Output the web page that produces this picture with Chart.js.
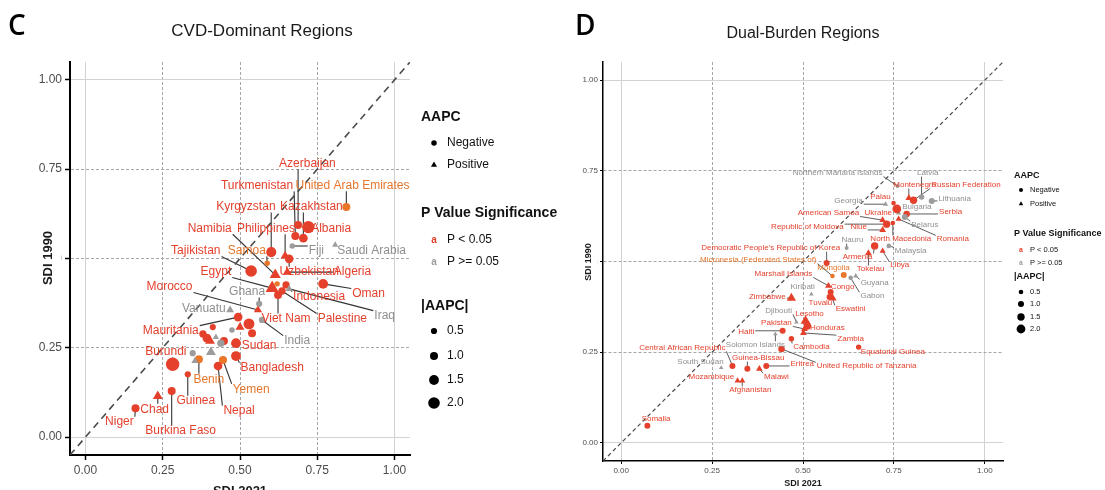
<!DOCTYPE html>
<html>
<head>
<meta charset="utf-8">
<script src="https://cdn.jsdelivr.net/npm/chart.js@4.4.1/dist/chart.umd.min.js"></script>
<style>
  html, body { margin: 0; padding: 0; background: #fff; }
  #wrap { position: relative; width: 1105px; height: 490px; overflow: hidden; }
  .panel { position: absolute; top: 0; height: 490px; }
  #pc { left: 0; width: 560px; }
  #pd { left: 560px; width: 545px; }
</style>
</head>
<body>
<div id="wrap">
  <div class="panel" id="pc"><canvas id="cvdChart"></canvas></div>
  <div class="panel" id="pd"><canvas id="dualChart"></canvas></div>
</div>
<script>
// --- data -------------------------------------------------------------
const sdiTicks = [0, 0.25, 0.5, 0.75, 1];
const diagonalSdi = [-0.05, 1.05];
const aapcSizeKeys = [0.5, 1.0, 1.5, 2.0];

// country, SDI 2021, SDI 1990, AAPC, p group (sig = P<0.05, ns = P>=0.05, mid = borderline)
const cvdRegions = [
  ['Azerbaijan', 0.688, 0.594, -1.0, 'sig'],
  ['Turkmenistan', 0.679, 0.563, -1.0, 'sig'],
  ['United Arab Emirates', 0.844, 0.644, -1.0, 'mid'],
  ['Kazakhstan', 0.705, 0.557, -1.2, 'sig'],
  ['Albania', 0.721, 0.588, -2.2, 'sig'],
  ['Kyrgyzstan', 0.601, 0.518, -1.6, 'sig'],
  ['Philippines', 0.646, 0.507, 1.0, 'sig'],
  ['Namibia', 0.614, 0.454, 1.5, 'sig'],
  ['Samoa', 0.588, 0.487, -0.3, 'mid'],
  ['Tajikistan', 0.536, 0.465, -2.0, 'sig'],
  ['Egypt', 0.604, 0.417, 2.0, 'sig'],
  ['Uzbekistan', 0.659, 0.499, -1.2, 'sig'],
  ['Algeria', 0.653, 0.462, 1.0, 'sig'],
  ['Morocco', 0.558, 0.356, 0.8, 'sig'],
  ['Ghana', 0.562, 0.373, -0.5, 'ns'],
  ['Indonesia', 0.649, 0.426, -0.8, 'sig'],
  ['Oman', 0.769, 0.429, -1.5, 'sig'],
  ['Iraq', 0.659, 0.415, 0.5, 'ns'],
  ['Viet Nam', 0.623, 0.398, -1.0, 'sig'],
  ['Palestine', 0.636, 0.409, -0.8, 'sig'],
  ['Vanuatu', 0.468, 0.356, 0.7, 'ns'],
  ['Fiji', 0.669, 0.535, -0.3, 'ns'],
  ['Saudi Arabia', 0.808, 0.538, 0.3, 'ns'],
  ['India', 0.571, 0.328, -0.5, 'ns'],
  ['Mauritania', 0.494, 0.336, -1.2, 'sig'],
  ['Sudan', 0.487, 0.263, -1.5, 'sig'],
  ['Burundi', 0.282, 0.204, -2.5, 'sig'],
  ['Bangladesh', 0.487, 0.227, -1.5, 'sig'],
  ['Benin', 0.367, 0.218, -1.0, 'mid'],
  ['Yemen', 0.445, 0.216, -1.0, 'mid'],
  ['Nepal', 0.429, 0.199, -1.2, 'sig'],
  ['Guinea', 0.331, 0.176, -0.5, 'sig'],
  ['Chad', 0.234, 0.115, 1.2, 'sig'],
  ['Burkina Faso', 0.279, 0.129, -1.0, 'sig'],
  ['Niger', 0.162, 0.081, -1.0, 'sig'],
  ['', 0.529, 0.317, -1.8, 'sig'],
  ['', 0.500, 0.308, 1.0, 'sig'],
  ['', 0.539, 0.291, -1.0, 'sig'],
  ['', 0.412, 0.308, -0.5, 'sig'],
  ['', 0.474, 0.300, -0.3, 'ns'],
  ['', 0.380, 0.289, -0.8, 'sig'],
  ['', 0.393, 0.277, -1.2, 'sig'],
  ['', 0.403, 0.269, 1.2, 'sig'],
  ['', 0.422, 0.280, 0.3, 'ns'],
  ['', 0.448, 0.269, -1.0, 'sig'],
  ['', 0.438, 0.263, -0.8, 'ns'],
  ['', 0.347, 0.235, -0.5, 'ns'],
  ['', 0.406, 0.238, 1.2, 'ns'],
  ['', 0.354, 0.213, 0.5, 'ns'],
  ['', 0.620, 0.429, -0.3, 'mid']
];

// repelled label anchors (SDI 2021, SDI 1990)
const cvdLabelAt = {
  'Azerbaijan': [0.718, 0.765],
  'Turkmenistan': [0.555, 0.703],
  'United Arab Emirates': [0.864, 0.703],
  'Kazakhstan': [0.731, 0.644],
  'Albania': [0.795, 0.583],
  'Kyrgyzstan': [0.519, 0.644],
  'Philippines': [0.584, 0.583],
  'Namibia': [0.402, 0.583],
  'Samoa': [0.522, 0.521],
  'Tajikistan': [0.357, 0.521],
  'Egypt': [0.422, 0.462],
  'Uzbekistan': [0.724, 0.462],
  'Algeria': [0.864, 0.462],
  'Morocco': [0.272, 0.420],
  'Ghana': [0.523, 0.406],
  'Indonesia': [0.756, 0.392],
  'Oman': [0.916, 0.401],
  'Iraq': [0.968, 0.339],
  'Viet Nam': [0.649, 0.331],
  'Palestine': [0.831, 0.331],
  'Vanuatu': [0.383, 0.359],
  'Fiji': [0.747, 0.521],
  'Saudi Arabia': [0.926, 0.521],
  'India': [0.685, 0.269],
  'Mauritania': [0.276, 0.297],
  'Sudan': [0.562, 0.255],
  'Burundi': [0.260, 0.238],
  'Bangladesh': [0.604, 0.193],
  'Benin': [0.399, 0.162],
  'Yemen': [0.536, 0.134],
  'Nepal': [0.497, 0.073],
  'Guinea': [0.357, 0.101],
  'Chad': [0.224, 0.078],
  'Burkina Faso': [0.308, 0.017],
  'Niger': [0.110, 0.042]
};

const dualRegions = [
  ['Northern Mariana Islands', 0.760, 0.708, -0.3, 'ns'],
  ['Latvia', 0.826, 0.678, -0.8, 'ns'],
  ['Montenegro', 0.791, 0.675, 1.0, 'sig'],
  ['Russian Federation', 0.804, 0.669, -1.5, 'sig'],
  ['Lithuania', 0.854, 0.667, -1.0, 'ns'],
  ['Georgia', 0.727, 0.658, 0.5, 'ns'],
  ['Palau', 0.749, 0.661, -0.5, 'sig'],
  ['Bulgaria', 0.763, 0.634, 0.5, 'ns'],
  ['Serbia', 0.785, 0.631, -1.2, 'sig'],
  ['Belarus', 0.780, 0.623, -1.0, 'ns'],
  ['Romania', 0.763, 0.617, 0.8, 'sig'],
  ['Ukraine', 0.758, 0.645, -2.0, 'sig'],
  ['American Samoa', 0.719, 0.614, 1.0, 'sig'],
  ['Republic of Moldova', 0.730, 0.603, -1.5, 'sig'],
  ['Niue', 0.719, 0.587, 1.0, 'sig'],
  ['North Macedonia', 0.747, 0.606, -0.5, 'sig'],
  ['Nauru', 0.620, 0.537, -0.3, 'ns'],
  ['Malaysia', 0.736, 0.543, -0.5, 'ns'],
  ['Armenia', 0.697, 0.543, -1.5, 'sig'],
  ['Tokelau', 0.680, 0.523, 1.0, 'sig'],
  ['Libya', 0.719, 0.529, 0.8, 'sig'],
  ["Democratic People's Republic of Korea", 0.565, 0.496, -1.0, 'sig'],
  ['Micronesia (Federated States of)', 0.581, 0.460, -0.5, 'mid'],
  ['Mongolia', 0.612, 0.463, -1.0, 'mid'],
  ['Marshall Islands', 0.570, 0.433, 1.0, 'sig'],
  ['Guyana', 0.645, 0.460, 0.5, 'ns'],
  ['Gabon', 0.631, 0.455, -0.5, 'ns'],
  ['Congo', 0.576, 0.416, -1.0, 'sig'],
  ['Kiribati', 0.523, 0.410, 0.3, 'ns'],
  ['Zimbabwe', 0.468, 0.399, 1.8, 'sig'],
  ['Tuvalu', 0.573, 0.402, -1.0, 'sig'],
  ['Eswatini', 0.581, 0.399, 1.5, 'sig'],
  ['Djibouti', 0.482, 0.333, 0.3, 'ns'],
  ['Lesotho', 0.507, 0.336, 2.0, 'sig'],
  ['Pakistan', 0.504, 0.314, 1.0, 'sig'],
  ['Honduras', 0.512, 0.322, -1.5, 'sig'],
  ['Haiti', 0.444, 0.309, -1.0, 'sig'],
  ['Zambia', 0.501, 0.303, 1.0, 'sig'],
  ['Solomon Islands', 0.424, 0.300, 0.3, 'ns'],
  ['Cambodia', 0.468, 0.287, -0.8, 'sig'],
  ['Equatorial Guinea', 0.653, 0.264, -0.8, 'sig'],
  ['Central African Republic', 0.306, 0.212, -1.0, 'sig'],
  ['United Republic of Tanzania', 0.441, 0.259, -1.2, 'sig'],
  ['Guinea-Bissau', 0.347, 0.204, -1.0, 'sig'],
  ['South Sudan', 0.275, 0.207, 0.3, 'ns'],
  ['Eritrea', 0.399, 0.212, -1.0, 'sig'],
  ['Malawi', 0.380, 0.204, 1.0, 'sig'],
  ['Mozambique', 0.320, 0.171, 0.8, 'sig'],
  ['Afghanistan', 0.333, 0.171, 0.8, 'sig'],
  ['Somalia', 0.072, 0.047, -1.0, 'sig']
];

const dualLabelAt = {
  'Northern Mariana Islands': [0.595, 0.744],
  'Latvia': [0.843, 0.744],
  'Montenegro': [0.807, 0.711],
  'Russian Federation': [0.948, 0.711],
  'Lithuania': [0.917, 0.672],
  'Georgia': [0.625, 0.667],
  'Palau': [0.713, 0.678],
  'Bulgaria': [0.813, 0.650],
  'Serbia': [0.906, 0.636],
  'Belarus': [0.835, 0.601],
  'Romania': [0.912, 0.562],
  'Ukraine': [0.707, 0.634],
  'American Samoa': [0.570, 0.634],
  'Republic of Moldova': [0.512, 0.595],
  'Niue': [0.653, 0.595],
  'North Macedonia': [0.769, 0.562],
  'Nauru': [0.636, 0.559],
  'Malaysia': [0.796, 0.529],
  'Armenia': [0.650, 0.512],
  'Tokelau': [0.686, 0.479],
  'Libya': [0.766, 0.490],
  "Democratic People's Republic of Korea": [0.411, 0.537],
  'Micronesia (Federated States of)': [0.377, 0.504],
  'Mongolia': [0.584, 0.482],
  'Marshall Islands': [0.446, 0.466],
  'Guyana': [0.697, 0.441],
  'Gabon': [0.691, 0.405],
  'Congo': [0.609, 0.430],
  'Kiribati': [0.499, 0.430],
  'Zimbabwe': [0.402, 0.402],
  'Tuvalu': [0.548, 0.386],
  'Eswatini': [0.631, 0.369],
  'Djibouti': [0.433, 0.364],
  'Lesotho': [0.518, 0.355],
  'Pakistan': [0.427, 0.331],
  'Honduras': [0.567, 0.317],
  'Haiti': [0.344, 0.306],
  'Zambia': [0.631, 0.287],
  'Solomon Islands': [0.369, 0.270],
  'Cambodia': [0.523, 0.264],
  'Equatorial Guinea': [0.747, 0.251],
  'Central African Republic': [0.168, 0.262],
  'United Republic of Tanzania': [0.675, 0.212],
  'Guinea-Bissau': [0.377, 0.234],
  'South Sudan': [0.218, 0.223],
  'Eritrea': [0.498, 0.218],
  'Malawi': [0.427, 0.182],
  'Mozambique': [0.248, 0.182],
  'Afghanistan': [0.355, 0.146],
  'Somalia': [0.096, 0.066]
};

// --- styling ----------------------------------------------------------
const FONT = '"Liberation Sans", Arial, sans-serif';
const FILL = { sig: '#E5402B', ns: '#9C9C9C', mid: '#E8772A' };
const TEXT = { sig: '#E4412D', ns: '#8F8F8F', mid: '#E5762C' };

const cvdStyle = {
  padRight: 150, yAxisW: 70, xAxisH: 35, tickSize: 12, tickLen: 5, tickW: 1.5, axisW: 2, tickPad: 3,
  rBase: 2.2, rScale: 1.8, labelSize: 12, segW: 1.1, segMin: 5,
  diagW: 1.6, diagDash: [7, 5],
  title: { text: 'CVD-Dominant Regions', x: 262, y: 31, size: 17 },
  letter: { text: 'C', x: 8, y: 35, size: 28 },
  yTitle: { x: 48, y: 258, size: 13 }, xTitle: { x: 240, y: 491, size: 13 },
  legend: { x: 421, sx: 434, tx: 447, head: 14, item: 12, key: 10,
            ys: [117, 143, 165, 213, 240, 262, 306, 331, 356, 380, 403] }
};

const dualStyle = {
  padRight: 102, yAxisW: 43, xAxisH: 29, tickSize: 8, tickLen: 3, tickW: 1, axisW: 1.5, tickPad: 2,
  rBase: 1.6, rScale: 1.4, labelSize: 8, segW: 0.8, segMin: 4,
  diagW: 1.2, diagDash: [4, 3],
  title: { text: 'Dual-Burden Regions', x: 243, y: 34, size: 16 },
  letter: { text: 'D', x: 15, y: 35, size: 28 },
  yTitle: { x: 29, y: 262, size: 9 }, xTitle: { x: 243, y: 484, size: 9 },
  legend: { x: 454, sx: 461, tx: 470, head: 9, item: 7.5, key: 7,
            ys: [176, 190, 204, 234, 250, 263, 277, 292, 304, 317, 329] }
};

// --- helpers ----------------------------------------------------------
function drawText(ctx, s, x, y, font, color, align, rot, boxed) {
  ctx.save();
  ctx.font = font;
  ctx.textAlign = align || 'left';
  ctx.textBaseline = 'middle';
  ctx.translate(x, y);
  if (rot) ctx.rotate(rot);
  if (boxed) {
    // title sits on a white plate, covering the tick label underneath
    const w = ctx.measureText(s).width;
    ctx.fillStyle = '#fff';
    ctx.fillRect(-w / 2 - 4, -boxed / 2, w + 8, boxed);
  }
  ctx.fillStyle = color;
  ctx.fillText(s, 0, 0);
  ctx.restore();
}

function drawMark(ctx, x, y, r, tri, color) {
  ctx.save();
  ctx.fillStyle = color;
  ctx.beginPath();
  if (tri) {
    ctx.moveTo(x, y - r);
    ctx.lineTo(x + r * 0.866, y + r * 0.5);
    ctx.lineTo(x - r * 0.866, y + r * 0.5);
    ctx.closePath();
  } else {
    ctx.arc(x, y, r, 0, Math.PI * 2);
  }
  ctx.fill();
  ctx.restore();
}

function makePanel(canvasId, rows, labelAt, st) {
  const points = rows.map(r => ({ x: r[1], y: r[2], aapc: r[3], grp: r[4], name: r[0] }));
  const radius = a => st.rBase + st.rScale * Math.abs(a);
  const rawOf = c => c.raw || { aapc: -1, grp: 'sig' };
  const isEdge = c => c.tick && (c.tick.value === 0 || c.tick.value === 1);

  const labelBoxes = (chart) => {
    const { ctx, scales: { x, y } } = chart;
    ctx.font = st.labelSize + 'px ' + FONT;
    return points.filter(p => labelAt[p.name]).map(p => {
      const [lx, ly] = labelAt[p.name];
      return {
        p, cx: x.getPixelForValue(lx), cy: y.getPixelForValue(ly),
        w: ctx.measureText(p.name).width, h: st.labelSize * 0.9,
        px: x.getPixelForValue(p.x), py: y.getPixelForValue(p.y)
      };
    });
  };

  const decor = {
    id: 'decor_' + canvasId,
    beforeDatasetsDraw(chart) {
      const ctx = chart.ctx;
      ctx.save();
      const boxes = labelBoxes(chart);
      ctx.strokeStyle = '#333';
      ctx.lineWidth = st.segW;
      boxes.forEach(b => {
        const x0 = b.cx - b.w / 2 - 1, x1 = b.cx + b.w / 2 + 1;
        const y0 = b.cy - b.h / 2, y1 = b.cy + b.h / 2;
        const qx = Math.min(Math.max(b.px, x0), x1);
        const qy = Math.min(Math.max(b.py, y0), y1);
        if (Math.hypot(b.px - qx, b.py - qy) > st.segMin) {
          ctx.beginPath();
          ctx.moveTo(b.px, b.py);
          ctx.lineTo(qx, qy);
          ctx.stroke();
        }
      });
      ctx.restore();
    },
    afterDatasetsDraw(chart) {
      const ctx = chart.ctx;
      labelBoxes(chart).forEach(b => {
        drawText(ctx, b.p.name, b.cx, b.cy, st.labelSize + 'px ' + FONT, TEXT[b.p.grp], 'center');
      });
    },
    afterDraw(chart) {
      const ctx = chart.ctx;
      const t = st.title, lt = st.letter;
      drawText(ctx, t.text, t.x, t.y, t.size + 'px ' + FONT, '#1a1a1a', 'center');
      ctx.save();
      ctx.font = '600 ' + lt.size + 'px "Open Sans", ' + FONT;
      ctx.fillStyle = '#000';
      ctx.textBaseline = 'alphabetic';
      ctx.fillText(lt.text, lt.x, lt.y);
      ctx.restore();
      drawText(ctx, 'SDI 1990', st.yTitle.x, st.yTitle.y, 'bold ' + st.yTitle.size + 'px ' + FONT, '#1a1a1a',
               'center', -Math.PI / 2, st.tickSize * 2.2);
      drawText(ctx, 'SDI 2021', st.xTitle.x, st.xTitle.y, 'bold ' + st.xTitle.size + 'px ' + FONT, '#1a1a1a', 'center');

      // legend
      const L = st.legend, ys = L.ys;
      const head = 'bold ' + L.head + 'px ' + FONT, item = L.item + 'px ' + FONT;
      drawText(ctx, 'AAPC', L.x, ys[0], head, '#111');
      drawMark(ctx, L.sx, ys[1], radius(0.3), false, '#000');
      drawText(ctx, 'Negative', L.tx, ys[1], item, '#111');
      drawMark(ctx, L.sx, ys[2], radius(0.3) * 1.3, true, '#000');
      drawText(ctx, 'Positive', L.tx, ys[2], item, '#111');
      drawText(ctx, 'P Value Significance', L.x, ys[3], head, '#111');
      drawText(ctx, 'a', L.sx, ys[4], 'bold ' + L.key + 'px ' + FONT, FILL.sig, 'center');
      drawText(ctx, 'P < 0.05', L.tx, ys[4], item, '#111');
      drawText(ctx, 'a', L.sx, ys[5], 'bold ' + L.key + 'px ' + FONT, FILL.ns, 'center');
      drawText(ctx, 'P >= 0.05', L.tx, ys[5], item, '#111');
      drawText(ctx, '|AAPC|', L.x, ys[6], head, '#111');
      aapcSizeKeys.forEach((k, i) => {
        drawMark(ctx, L.sx, ys[7 + i], radius(k), false, '#000');
        drawText(ctx, k.toFixed(1), L.tx, ys[7 + i], item, '#111');
      });
    }
  };

  const axis = (isX) => ({
    type: 'linear', min: -0.05, max: 1.05,
    afterBuildTicks: s => { s.ticks = sdiTicks.map(v => ({ value: v })); },
    afterFit: s => { if (isX) s.height = st.xAxisH; else s.width = st.yAxisW; },
    ticks: {
      callback: v => Number(v).toFixed(2), color: '#4d4d4d', autoSkip: false, maxRotation: 0,
      font: { family: FONT, size: st.tickSize }, padding: st.tickPad
    },
    grid: {
      color: c => isEdge(c) ? '#d2d2d2' : '#a6a6a6', lineWidth: 1,
      drawTicks: true, tickLength: st.tickLen, tickColor: '#000', tickWidth: st.tickW
    },
    border: { display: true, color: '#000', width: st.axisW, dash: c => isEdge(c) ? [] : [3, 2] }
  });

  return new Chart(document.getElementById(canvasId), {
    type: 'scatter',
    data: {
      datasets: [
        {
          data: points,
          pointStyle: c => rawOf(c).aapc > 0 ? 'triangle' : 'circle',
          pointRadius: c => { const r = rawOf(c); return radius(r.aapc) * (r.aapc > 0 ? 1.3 : 1); },
          pointHoverRadius: c => { const r = rawOf(c); return radius(r.aapc) * (r.aapc > 0 ? 1.3 : 1); },
          backgroundColor: c => FILL[rawOf(c).grp],
          borderWidth: 0
        },
        {
          data: diagonalSdi.map(v => ({ x: v, y: v })),
          showLine: true, pointRadius: 0, borderColor: '#4a4a4a',
          borderWidth: st.diagW, borderDash: st.diagDash, fill: false
        }
      ]
    },
    options: {
      responsive: true, maintainAspectRatio: false, animation: false, events: [],
      layout: { padding: { top: 62, right: st.padRight, left: 0, bottom: 0 } },
      plugins: { legend: { display: false }, tooltip: { enabled: false }, title: { display: false } },
      scales: { x: axis(true), y: axis(false) }
    },
    plugins: [decor]
  });
}

makePanel('cvdChart', cvdRegions, cvdLabelAt, cvdStyle);
makePanel('dualChart', dualRegions, dualLabelAt, dualStyle);
</script>
</body>
</html>
